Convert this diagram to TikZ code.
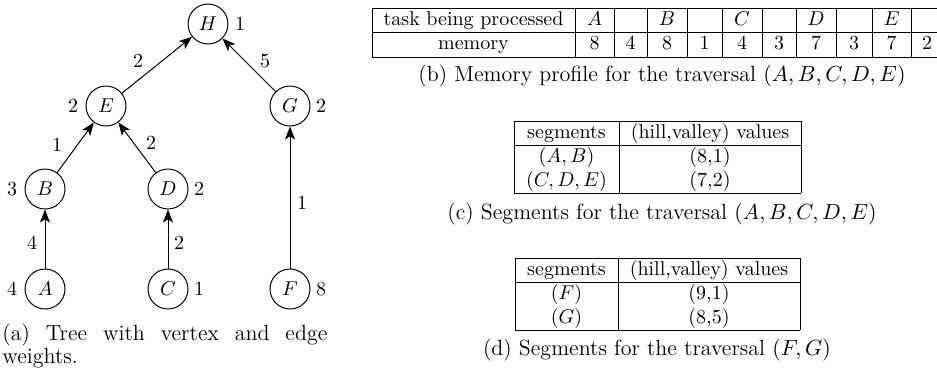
\documentclass[tikz,border=0pt]{standalone}
\usetikzlibrary{arrows.meta}
\begin{document}
\begin{tikzpicture}[x=0.5pt,y=-0.5pt,
  vtx/.style={draw,circle,minimum size=20pt,inner sep=0pt,line width=0.5pt},
  wlab/.style={inner sep=0pt},
  edgearrow/.style={-{Stealth[length=6.5pt,width=5pt,inset=1.6pt]},line width=0.5pt},
  cell/.style={anchor=base,inner sep=0pt},
  tline/.style={line width=0.5pt},
  capt/.style={anchor=base,inner sep=0pt,font=\fontsize{11pt}{13.6pt}\selectfont}]
\useasboundingbox (0,0) rectangle (937,371);
% ---------- tree ----------
\node[vtx] (H) at (208,24) {$H$};
\node[vtx] (E) at (106,106) {$E$};
\node[vtx] (G) at (290,106) {$G$};
\node[vtx] (B) at (45,189) {$B$};
\node[vtx] (D) at (168,189) {$D$};
\node[vtx] (A) at (45,289) {$A$};
\node[vtx] (C) at (168,289) {$C$};
\node[vtx] (F) at (290,289) {$F$};
\draw[edgearrow] (E) -- (H);
\draw[edgearrow] (G) -- (H);
\draw[edgearrow] (B) -- (E);
\draw[edgearrow] (D) -- (E);
\draw[edgearrow] (A) -- (B);
\draw[edgearrow] (C) -- (D);
\draw[edgearrow] (F) -- (G);
% vertex weights
\node[wlab] (wH) at (240,24) {1};
\node[wlab] (wE) at (73,106) {2};
\node[wlab] (wG) at (321,106) {2};
\node[wlab] (wB) at (12,189) {3};
\node[wlab] (wD) at (199,189) {2};
\node[wlab] (wA) at (12,289) {4};
\node[wlab] (wC) at (199,289) {1};
\node[wlab] (wF) at (321,289) {8};
% edge weights
\node[wlab] (eEH) at (138,61) {2};
\node[wlab] (eGH) at (265,61) {5};
\node[wlab] (eBE) at (57,145) {1};
\node[wlab] (eDE) at (151,143) {2};
\node[wlab] (eAB) at (32,243) {4};
\node[wlab] (eCD) at (179,243) {2};
\node[wlab] (eFG) at (302,203) {1};
\node[anchor=base west,inner sep=0pt,text width=162.5pt,align=justify,
  font=\fontsize{11pt}{11.75pt}\selectfont] (capa) at (2,340)
  {(a) Tree with vertex and edge weights.};
% ---------- table (b) ----------
\foreach \y in {8,32,57} \draw[tline] (372,\y) -- (945,\y);
\foreach \x in {372,575,614,647,687,722,762,796,836,872,911} \draw[tline] (\x,8) -- (\x,57);
\node[cell] (b11) at (473.5,25) {task being processed};
\node[cell] (b21) at (473.5,49) {memory};
\foreach \x/\t/\m [count=\i] in {594.5/$A$/8, 630.5//4, 667/$B$/8, 704.5//1, 742/$C$/4,
   779//3, 816/$D$/7, 854//3, 891.5/$E$/7, 927//2}{
  \node[cell] (bt\i) at (\x,25) {\t};
  \node[cell] (bm\i) at (\x,49) {\m};
}
\node[capt] (capb) at (662,81) {(b) Memory profile for the traversal $(A,B,C,D,E)$};
% ---------- table (c) ----------
\foreach \y in {121,145,193} \draw[tline] (514,\y) -- (801,\y);
\foreach \x in {514,619,801} \draw[tline] (\x,121) -- (\x,193);
\node[cell] (c11) at (566.5,138) {segments};
\node[cell] (c12) at (710,138) {(hill,valley) values};
\node[cell] (c21) at (566.5,162) {$(A,B)$};
\node[cell] (c22) at (710,162) {(8,1)};
\node[cell] (c31) at (566.5,186) {$(C,D,E)$};
\node[cell] (c32) at (710,186) {(7,2)};
\node[capt] (capc) at (662,219) {(c) Segments for the traversal $(A,B,C,D,E)$};
% ---------- table (d) ----------
\foreach \y in {258,282,330} \draw[tline] (515,\y) -- (800,\y);
\foreach \x in {515,618,800} \draw[tline] (\x,258) -- (\x,330);
\node[cell] (d11) at (566.5,275) {segments};
\node[cell] (d12) at (709,275) {(hill,valley) values};
\node[cell] (d21) at (566.5,299) {$(F)$};
\node[cell] (d22) at (709,299) {(9,1)};
\node[cell] (d31) at (566.5,323) {$(G)$};
\node[cell] (d32) at (709,323) {(8,5)};
\node[capt] (capd) at (657,355) {(d) Segments for the traversal $(F,G)$};
\end{tikzpicture}
\end{document}
